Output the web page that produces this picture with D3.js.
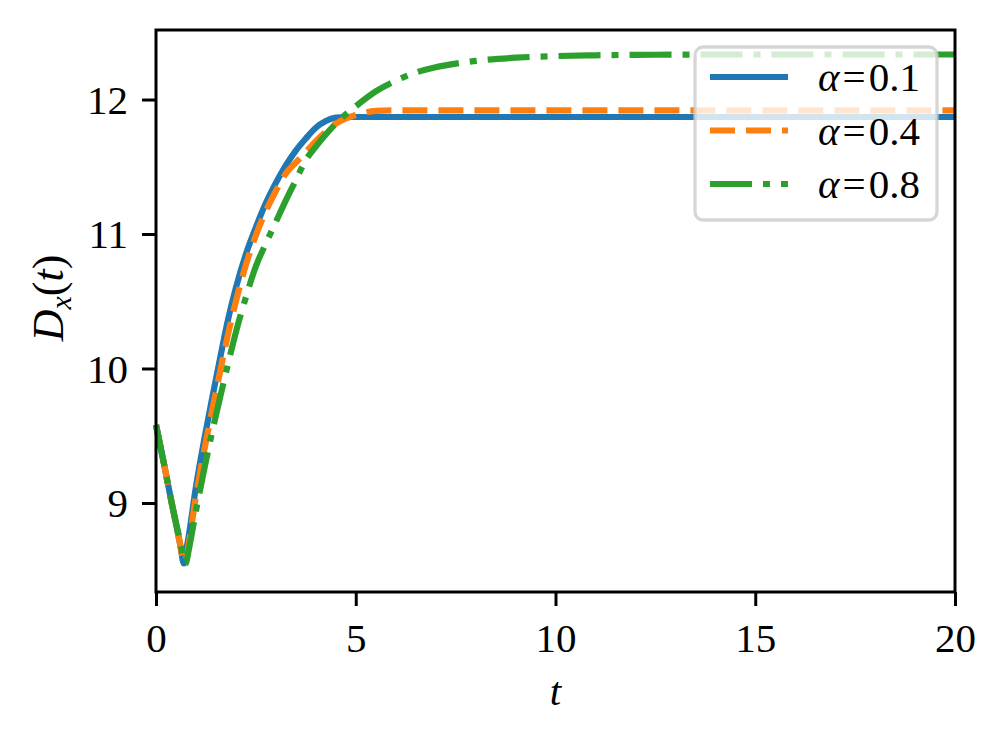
<!DOCTYPE html>
<html>
<head>
<meta charset="utf-8">
<script src="https://cdn.jsdelivr.net/npm/d3@7"></script>
<style>
	body { margin: 0; background: #fff; }
	text { font-family: "Liberation Serif", "DejaVu Serif", serif; }
</style>
</head>
<body>
<script>
// time grid (shared by all three series)
var tValues = [0, 0.2, 0.4, 0.6, 0.7, 0.75, 0.8, 1.0, 1.2, 1.4, 1.6, 1.8, 2.0, 2.25, 2.5, 2.75,
	3.0, 3.25, 3.5, 3.75, 4.0, 4.25, 4.5, 4.75, 5.0, 5.5, 6.0, 6.5, 7.0, 7.5, 8.0, 9.0, 10, 11, 12, 14, 16, 18, 20];

var alpha01 = [9.58, 9.29, 8.99, 8.70, 8.55, 8.64, 8.72, 9.12, 9.46, 9.77, 10.07, 10.36, 10.60, 10.85, 11.05, 11.23,
	11.38, 11.51, 11.62, 11.71, 11.79, 11.84, 11.865, 11.87, 11.87, 11.87, 11.87, 11.87, 11.87, 11.87, 11.87, 11.87, 11.87, 11.87, 11.87, 11.87, 11.87, 11.87, 11.87];

var alpha04 = [9.58, 9.29, 8.99, 8.70, 8.56, 8.58, 8.66, 9.05, 9.38, 9.68, 9.97, 10.25, 10.50, 10.77, 10.99, 11.17,
	11.32, 11.45, 11.53, 11.61, 11.69, 11.76, 11.82, 11.86, 11.885, 11.915, 11.92, 11.92, 11.92, 11.92, 11.92, 11.92, 11.92, 11.92, 11.92, 11.92, 11.92, 11.92, 11.92];

var alpha08 = [9.58, 9.29, 8.99, 8.72, 8.58, 8.55, 8.62, 8.94, 9.24, 9.52, 9.78, 10.03, 10.27, 10.53, 10.76, 10.93,
	11.09, 11.25, 11.40, 11.55, 11.65, 11.74, 11.82, 11.89, 11.95, 12.06, 12.14, 12.20, 12.24, 12.267, 12.287, 12.311, 12.323, 12.329, 12.332, 12.335, 12.335, 12.335, 12.335];

var seriesNames = ['0.1', '0.4', '0.8'];
var xTicks = [0, 5, 10, 15, 20];
var yTicks = [9, 10, 11, 12];

var width = 1006, height = 744;
var margin = {left: 156, right: 955, top: 30, bottom: 592};

var svg = d3.select('body').append('svg')
	.attr('width', width)
	.attr('height', height);

var x = d3.scaleLinear().domain([0, 20]).range([margin.left, margin.right]);
var y = d3.scaleLinear().domain([8.338, 12.517]).range([margin.bottom, margin.top]);

var series = [
	{name: seriesNames[0], values: alpha01, color: '#1f77b4', dash: null},
	{name: seriesNames[1], values: alpha04, color: '#ff7f0e', dash: '25,11'},
	{name: seriesNames[2], values: alpha08, color: '#2ca02c', dash: '42,11,7,11'}
];

var line = d3.line()
	.x(function(d) { return x(d[0]); })
	.y(function(d) { return y(d[1]); })
	.curve(d3.curveMonotoneX);

// curves
series.forEach(function(s) {
	svg.append('path')
		.datum(tValues.map(function(t, i) { return [t, s.values[i]]; }))
		.attr('d', line)
		.attr('fill', 'none')
		.attr('stroke', s.color)
		.attr('stroke-width', 6.2)
		.attr('stroke-dasharray', s.dash);
});

// axes
var xAxis = svg.append('g')
	.attr('transform', 'translate(0,' + margin.bottom + ')')
	.call(d3.axisBottom(x).tickValues(xTicks).tickFormat(d3.format('d'))
		.tickSize(14).tickPadding(14).tickSizeOuter(0));

var yAxis = svg.append('g')
	.attr('transform', 'translate(' + margin.left + ',0)')
	.call(d3.axisLeft(y).tickValues(yTicks).tickFormat(d3.format('d'))
		.tickSize(14).tickPadding(14).tickSizeOuter(0));

[xAxis, yAxis].forEach(function(g) {
	g.select('.domain').remove();
	g.selectAll('line').attr('stroke', '#000').attr('stroke-width', 3);
	g.selectAll('text')
		.attr('fill', '#000')
		.style('font-size', '41px');
});
xAxis.selectAll('text').attr('y', 60).attr('dy', 0);
yAxis.selectAll('text').attr('dy', '0.33em');

// frame
svg.append('rect')
	.attr('x', margin.left)
	.attr('y', margin.top)
	.attr('width', margin.right - margin.left)
	.attr('height', margin.bottom - margin.top)
	.attr('fill', 'none')
	.attr('stroke', '#000')
	.attr('stroke-width', 3);

// axis labels
svg.append('text')
	.attr('x', (margin.left + margin.right) / 2)
	.attr('y', 705)
	.attr('text-anchor', 'middle')
	.style('font-size', '41px')
	.style('font-style', 'italic')
	.text('t');

var yl = svg.append('text')
	.attr('transform', 'translate(63,298) rotate(-90)')
	.attr('text-anchor', 'middle')
	.style('font-size', '44px');
yl.append('tspan').style('font-style', 'italic').text('D');
yl.append('tspan').style('font-style', 'italic').style('font-size', '30px').attr('dy', 8).text('x');
yl.append('tspan').attr('dy', -8).text('(');
yl.append('tspan').style('font-style', 'italic').text('t');
yl.append('tspan').text(')');

// legend
var legend = svg.append('g');
legend.append('rect')
	.attr('x', 695)
	.attr('y', 47)
	.attr('width', 242)
	.attr('height', 173)
	.attr('rx', 8)
	.attr('fill', '#fff')
	.attr('fill-opacity', 0.8)
	.attr('stroke', '#cccccc')
	.attr('stroke-opacity', 0.8)
	.attr('stroke-width', 3.3);

series.forEach(function(s, i) {
	var ry = 77 + i * 53.5;
	legend.append('line')
		.attr('x1', 710)
		.attr('x2', 788)
		.attr('y1', ry)
		.attr('y2', ry)
		.attr('stroke', s.color)
		.attr('stroke-width', 6.2)
		.attr('stroke-dasharray', s.dash);
	var lt = legend.append('text')
		.attr('x', 818)
		.attr('y', ry + 14)
		.style('font-size', '41px');
	lt.append('tspan').style('font-style', 'italic').text('α');
	lt.append('tspan').attr('dx', 3).text('=');
	lt.append('tspan').attr('dx', 3).text(s.name);
});
</script>
</body>
</html>
